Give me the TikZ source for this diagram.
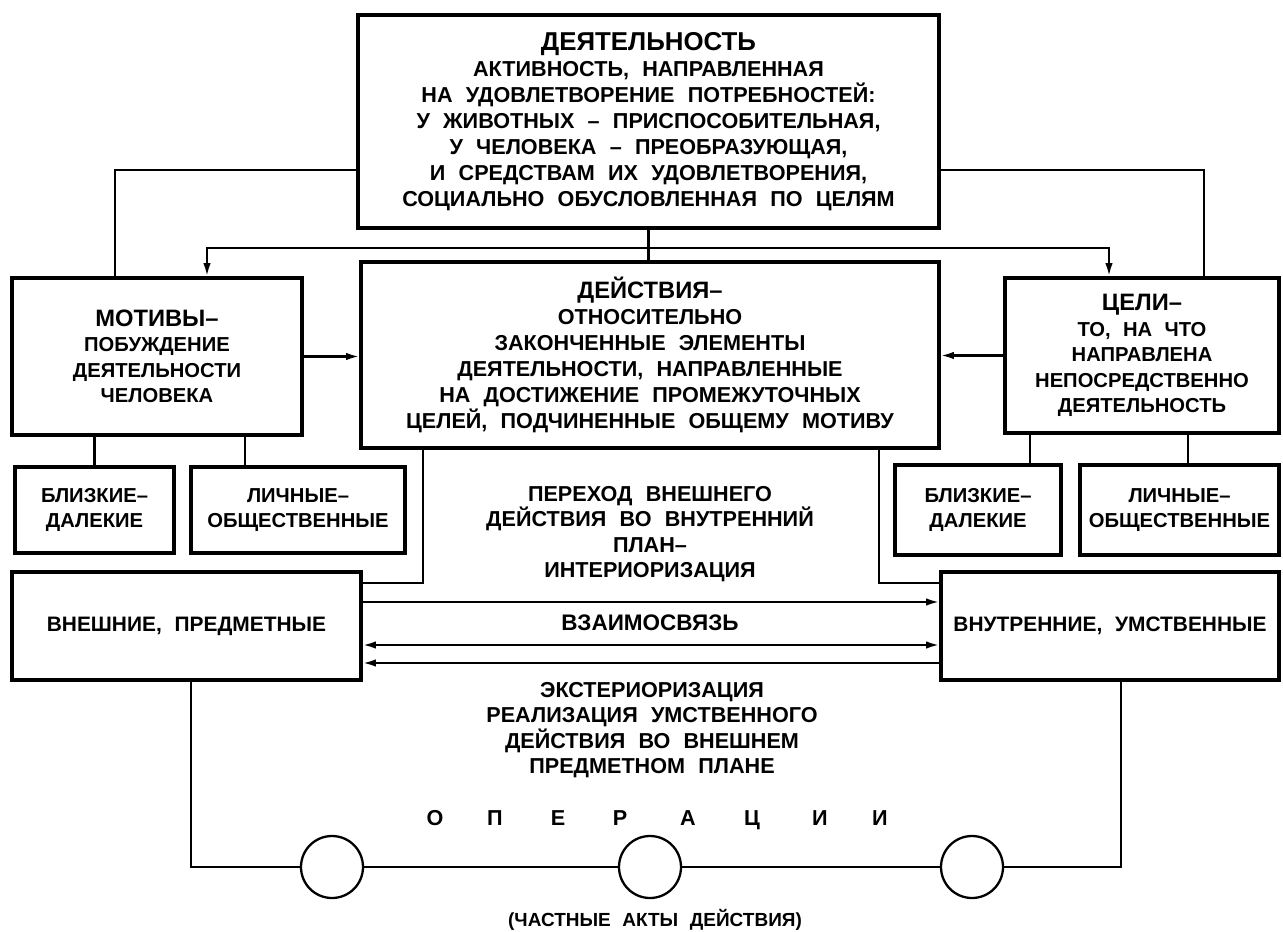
\documentclass[tikz,border=0pt]{standalone}
\usepackage{fontspec}
\setmainfont{Liberation Sans}[WordSpace=2.2]
\usepackage{tikz}
\usetikzlibrary{arrows.meta, positioning}

\newcommand{\headline}[1]{{\fontsize{13.5}{16}\selectfont #1}}

\begin{document}
\begin{tikzpicture}[x=0.2mm, y=-0.2mm,
  box/.style={draw, line width=2.2pt, align=center, inner sep=2pt,
    font=\fontsize{11.5}{14.5}\selectfont\bfseries},
  bigbox/.style={box, font=\fontsize{12.3}{14.8}\selectfont\bfseries},
  lbl/.style={align=center, inner sep=1pt,
    font=\fontsize{12.3}{14.4}\selectfont\bfseries},
  link/.style={line width=1.2pt},
  arr/.style={link, -{Latex[length=2.6mm, width=1.5mm]}},
  rarr/.style={link, {Latex[length=2.6mm, width=1.5mm]}-},
  darr/.style={link, {Latex[length=2.6mm, width=1.5mm]}-{Latex[length=2.6mm, width=1.5mm]}},
  ring/.style={circle, draw, line width=1.3pt, minimum size=12.4mm, inner sep=0pt}]
\useasboundingbox (0,0) rectangle (1283,932);

% activity, top
\node[bigbox, minimum width=116.2mm, minimum height=42.6mm] (act) at (648.5,121.5)
  {{\fontsize{14.7}{16}\selectfont ДЕЯТЕЛЬНОСТЬ}\\ АКТИВНОСТЬ, НАПРАВЛЕННАЯ\\ НА УДОВЛЕТВОРЕНИЕ ПОТРЕБНОСТЕЙ:\\
   У ЖИВОТНЫХ – ПРИСПОСОБИТЕЛЬНАЯ,\\ У ЧЕЛОВЕКА – ПРЕОБРАЗУЮЩАЯ,\\
   И СРЕДСТВАМ ИХ УДОВЛЕТВОРЕНИЯ,\\ СОЦИАЛЬНО ОБУСЛОВЛЕННАЯ ПО ЦЕЛЯМ};

% motives, actions, goals
\node[box, minimum width=58mm, minimum height=31.4mm] (motives) at (157,356.5)
  {\headline{МОТИВЫ–}\\ ПОБУЖДЕНИЕ\\ ДЕЯТЕЛЬНОСТИ\\ ЧЕЛОВЕКА};
\node[bigbox, minimum width=115.6mm, minimum height=37.2mm] (actions) at (650,355)
  {\headline{ДЕЙСТВИЯ–}\\ ОТНОСИТЕЛЬНО\\ ЗАКОНЧЕННЫЕ ЭЛЕМЕНТЫ\\ ДЕЯТЕЛЬНОСТИ, НАПРАВЛЕННЫЕ\\
   НА ДОСТИЖЕНИЕ ПРОМЕЖУТОЧНЫХ\\ ЦЕЛЕЙ, ПОДЧИНЕННЫЕ ОБЩЕМУ МОТИВУ};
\node[box, minimum width=54.8mm, minimum height=31mm] (goals) at (1142,355.5)
  {\headline{ЦЕЛИ–}\\ ТО, НА ЧТО\\ НАПРАВЛЕНА\\ НЕПОСРЕДСТВЕННО\\ ДЕЯТЕЛЬНОСТЬ};

% kinds of motives and goals
\node[box, minimum width=31.8mm, minimum height=17.2mm] (nearM) at (94.5,510) {БЛИЗКИЕ–\\ ДАЛЕКИЕ};
\node[box, minimum width=42.8mm, minimum height=17.2mm] (persM) at (298,510) {ЛИЧНЫЕ–\\ ОБЩЕСТВЕННЫЕ};
\node[box, minimum width=33.2mm, minimum height=18mm] (nearG) at (978,510) {БЛИЗКИЕ–\\ ДАЛЕКИЕ};
\node[box, minimum width=39.8mm, minimum height=18mm] (persG) at (1179.5,510) {ЛИЧНЫЕ–\\ ОБЩЕСТВЕННЫЕ};

% outer and inner actions
\node[box, minimum width=69.8mm, minimum height=21.6mm, font=\fontsize{11.9}{14}\selectfont\bfseries] (outer) at (186.5,626) {ВНЕШНИЕ, ПРЕДМЕТНЫЕ};
\node[box, minimum width=67.6mm, minimum height=21.6mm, font=\fontsize{11.9}{14}\selectfont\bfseries] (inner) at (1110,626) {ВНУТРЕННИЕ, УМСТВЕННЫЕ};

% labels in the middle
\node[lbl] (interior) at (650,534) {ПЕРЕХОД ВНЕШНЕГО\\ ДЕЙСТВИЯ ВО ВНУТРЕННИЙ\\ ПЛАН–\\ ИНТЕРИОРИЗАЦИЯ};
\node[lbl, font=\fontsize{12.8}{14}\selectfont\bfseries] (link) at (650,623) {ВЗАИМОСВЯЗЬ};
\node[lbl] (exterior) at (652,730) {ЭКСТЕРИОРИЗАЦИЯ\\ РЕАЛИЗАЦИЯ УМСТВЕННОГО\\ ДЕЙСТВИЯ ВО ВНЕШНЕМ\\ ПРЕДМЕТНОМ ПЛАНЕ};
\foreach \ch/\xx in {О/435, П/495, Е/558, Р/620, А/688, Ц/752, И/820, И/880}
  \node[lbl, anchor=base] (op\xx) at (\xx,825) {\ch};
\node[lbl, font=\fontsize{10.8}{13}\selectfont\bfseries] (acts) at (655,920) {(ЧАСТНЫЕ АКТЫ ДЕЙСТВИЯ)};

% operations
\foreach \i/\xx in {1/332, 2/650, 3/972}
  \node[ring] (op\i) at (\xx,867) {};

% connectors from activity
\draw[link] (act.west |- 0,170) -| (motives.north -| 115,0);
\draw[link] (act.east |- 0,170) -| (goals.north -| 1204,0);
\coordinate (hub) at (act.south |- 0,248);
\draw[link] (act.south) -- (act.south |- actions.north);
\draw[arr] (hub) -| (motives.north -| 207,0);
\draw[arr] (hub) -| (goals.north -| 1109,0);

% into actions
\draw[arr] (motives.east) -- (motives.east -| actions.west);
\draw[arr] (goals.west) -- (goals.west -| actions.east);

% kinds
\draw[link] (motives.south -| nearM.north) -- (nearM.north);
\draw[link] (motives.south -| 245,0) -- (persM.north -| 245,0);
\draw[link] (goals.south -| 1030,0) -- (nearG.north -| 1030,0);
\draw[link] (goals.south -| 1188,0) -- (persG.north -| 1188,0);

% actions down to outer and inner
\draw[link] (actions.south -| 423,0) |- (outer.east |- 0,583);
\draw[link] (actions.south -| 879,0) |- (inner.west |- 0,583);

% between outer and inner
\draw[arr] (outer.east |- 0,602) -- (inner.west |- 0,602);
\draw[darr] (outer.east |- 0,645) -- (inner.west |- 0,645);
\draw[rarr] (outer.east |- 0,663) -- (inner.west |- 0,663);

% chain of operations
\draw[link] (outer.south -| 191,0) |- (op1.west);
\draw[link] (op1) -- (op2);
\draw[link] (op2) -- (op3);
\draw[link] (op3.east) -| (inner.south -| 1121,0);
\end{tikzpicture}
\end{document}
